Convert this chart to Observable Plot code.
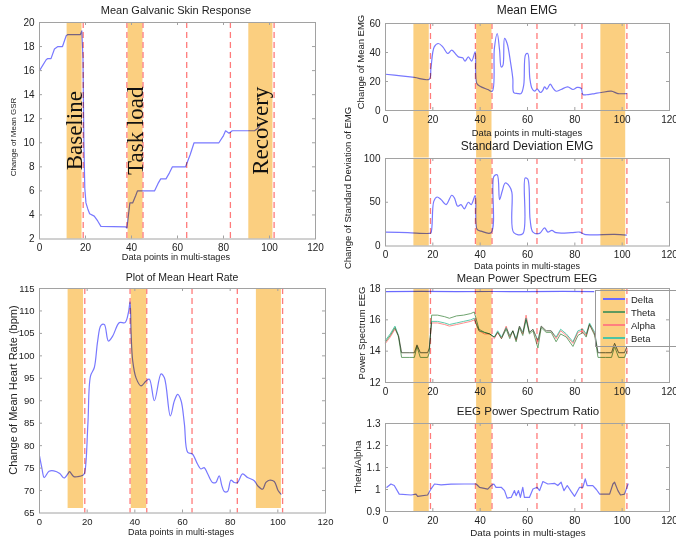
<!DOCTYPE html>
<html><head><meta charset="utf-8">
<script src="https://cdn.jsdelivr.net/npm/d3@7"></script>
<script src="https://cdn.jsdelivr.net/npm/@observablehq/plot@0.6"></script>
<style>
html,body{margin:0;padding:0;background:#fff;}
#root{position:relative;width:676px;height:543px;overflow:hidden;background:#fff;font-family:"Liberation Sans",Arial,sans-serif;color:#222;}
.lbl{position:absolute;white-space:nowrap;transform:translate(-50%,-50%);line-height:1;}
.ylbl{position:absolute;white-space:nowrap;transform:translate(-50%,-50%) rotate(-90deg);line-height:1;}
.legend{position:absolute;border:1px solid #999;background:transparent;font-size:9.5px;}
.legend .row{position:absolute;left:0;display:flex;align-items:center;height:12px;}
.legend .sw{display:inline-block;width:22px;height:1.4px;margin-left:7px;margin-right:6px;}
</style></head><body><div id="root"></div>
<script>
// ---------- shared stage information ----------
const xTicks = [0, 20, 40, 60, 80, 100, 120];
const stageX = [19, 38, 45, 64, 83, 102];
const bandStart = [12, 38.5, 91];
const bandEnd = [18.5, 45, 101.5];
const phaseNames = ["Baseline", "Task load", "Recovery"];

// ---------- Mean Galvanic Skin Response ----------
const gsrX = [0, 2.9, 3.6, 5, 6.5, 8, 10, 11.6, 12.3, 17.8, 18.4, 18.9, 19.3, 19.7, 20.2, 21, 21.8, 23.8, 25.3, 26.7, 37.5, 38, 38.8, 39.3, 40.5, 41.8, 42.6, 50, 51.5, 52.7, 55, 56.5, 57.8, 63.5, 65.5, 67.2, 78, 80, 80.9, 82.4, 83.8, 93.5, 95, 96];
const gsrY = [16, 16.9, 17, 17, 17.8, 18, 18, 18.9, 19, 19, 19.3, 17, 10, 6.2, 5, 4.5, 4.1, 3.9, 3.5, 3.05, 3, 2.9, 4.2, 5, 5, 5.6, 6, 6, 6.6, 7, 7, 7.5, 8, 8, 9, 10, 10, 10.6, 11, 10.8, 11, 11, 11.2, 11.5];
const gsrTicks = [2, 4, 6, 8, 10, 12, 14, 16, 18, 20];

// ---------- Mean Heart Rate ----------
const hrX = [0, 1, 2, 4, 6, 8.5, 10.3, 12, 12.6, 14.4, 16.1, 18.2, 18.9, 20.3, 21.4, 23, 24.4, 25.8, 27.2, 28.9, 30.7, 33.5, 35.9, 37.3, 38, 38.4, 39.1, 40.5, 42.6, 44.7, 46.1, 48.2, 51, 52.4, 54.9, 56.6, 58, 59.4, 60.8, 62.2, 64.2, 66.3, 67.7, 69.1, 70.5, 72.6, 74, 75.4, 76.5, 77.5, 78.9, 80.3, 81.7, 83.1, 85.2, 87.3, 90.1, 91.5, 93.6, 95, 96.4, 98.5, 100.1, 101.3];
const hrY = [77.7, 75, 72.9, 74.3, 74.4, 73.8, 72.8, 73.8, 74.2, 73.1, 73.1, 73.4, 73.9, 84.8, 95.5, 97.4, 103.3, 106.8, 107, 103.3, 104.4, 107.4, 107.4, 109.6, 112, 105.5, 98.9, 95.1, 93.3, 94.4, 94.8, 90, 96, 95.1, 86.6, 90, 91.4, 90, 84.8, 78.5, 78.1, 75.9, 74.8, 75.1, 73.8, 71.8, 71.8, 73.3, 71.1, 69.8, 69.8, 72.3, 71.8, 71.8, 73.7, 72.9, 72.2, 71.1, 70.3, 71.8, 72.3, 72, 70, 69.2];
const hrTicks = [65, 70, 75, 80, 85, 90, 95, 100, 105, 110, 115];
const hrBandFloor = 66;

// ---------- Mean EMG ----------
const emgX = [0, 6.5, 12.2, 18.5, 19.2, 20.6, 22.3, 24.2, 26.3, 28, 29.8, 30.8, 32.6, 33.6, 35, 36.4, 37.9, 38.6, 40.4, 43.2, 45.1, 46, 47.2, 48.2, 48.9, 49.6, 50.3, 51.4, 52.8, 53.8, 54.2, 55.9, 57.3, 58.4, 59.2, 60.1, 61, 61.9, 63, 64.1, 65.5, 66.5, 67.2, 68.2, 69.6, 70.7, 72.1, 74.2, 77, 79.2, 81, 82.7, 83.4, 85.6, 88.4, 91.2, 95.4, 98.2, 101.8];
const emgY = [25, 23.9, 22.8, 21.6, 29, 43.9, 46.2, 43.9, 39.3, 41.6, 38.6, 37, 36.3, 34, 37, 34, 40.5, 18.6, 16.3, 14.5, 13.3, 42.8, 53.1, 41.6, 30, 31, 49.7, 46.2, 33.6, 22, 12.4, 11.7, 11.7, 17.5, 38.6, 39.3, 22, 15.2, 13.3, 14.7, 12.4, 14, 16.3, 14.7, 18.2, 15.6, 13.3, 14.5, 16.3, 14.5, 15.9, 15.2, 11, 11, 11.7, 12.4, 13.3, 11.7, 11.7];
const emgTicks = [0, 20, 40, 60];

// ---------- Standard Deviation EMG ----------
const sdX = [0, 9.4, 18.5, 19.2, 20.4, 21.8, 23.5, 25.6, 28, 29.1, 30.5, 31.9, 33.3, 35, 36.2, 37.9, 38.7, 40.4, 44.6, 45.8, 47.2, 48.2, 49.3, 50.6, 52.4, 53.4, 54.2, 58, 59, 60.1, 61.1, 62.3, 65.1, 67.2, 68.6, 70.3, 72.1, 78.5, 82, 84.1, 96.8, 101.8];
const sdY = [15.9, 15.2, 14.4, 15, 51, 56, 53, 47.3, 58, 55, 45.5, 47.3, 42.4, 50, 47.3, 57.6, 18.9, 17, 15.2, 79.5, 81.4, 53, 62.5, 72, 68.2, 61.4, 15.2, 14, 77.7, 76.5, 30.3, 15.9, 14.4, 20.8, 15.9, 17.8, 15.2, 15.2, 15.9, 13.3, 13.3, 12.5];
const sdTicks = [0, 50, 100];

// ---------- Mean Power Spectrum EEG ----------
const eegSeries = ["Delta", "Theta", "Alpha", "Beta"];
const deltaX = [0, 15, 30, 45, 60, 75, 88];
const deltaY = [17.8, 17.82, 17.8, 17.81, 17.8, 17.82, 17.8];
const eegX = [0, 2, 4, 5.5, 6.8, 10, 12.2, 13.3, 14.7, 17.8, 18.5, 19.5, 22, 25, 27, 30, 33, 36, 37.5, 39.5, 41.8, 44, 46, 47.4, 49, 51, 52.5, 53.8, 55.2, 56.6, 58, 59.4, 60.8, 62.3, 64.4, 65.8, 67.9, 70, 72.1, 74, 76.4, 79.2, 81.3, 83.4, 84.8, 86.2, 88.4, 89.8, 93, 95.5, 96.8, 98.5, 101, 102];
const thetaY = [14.6, 15.0, 15.5, 14.9, 13.6, 13.6, 13.6, 14.3, 13.6, 13.6, 13.9, 16.3, 16.3, 16.2, 16.1, 16.25, 16.3, 16.4, 16.5, 15.4, 15.2, 15.1, 14.9, 15.2, 14.8, 15.4, 14.8, 15.3, 14.6, 15.5, 15.0, 16.0, 15.1, 15.3, 14.2, 15.5, 15.2, 15.2, 14.6, 15.1, 14.9, 14.3, 15.0, 15.2, 14.9, 15.7, 15.0, 13.6, 13.6, 13.6, 14.3, 13.6, 13.6, 14.0];
const alphaY = [14.5, 14.9, 15.4, 15.0, 13.9, 13.9, 13.9, 14.4, 13.9, 13.9, 14.2, 15.8, 15.8, 15.7, 15.6, 15.7, 15.8, 15.9, 16.0, 15.3, 15.1, 15.1, 14.8, 15.2, 14.8, 15.6, 14.9, 15.3, 14.7, 15.6, 15.1, 16.3, 15.2, 15.4, 14.6, 15.6, 15.3, 15.3, 14.8, 15.3, 15.0, 14.5, 15.2, 15.3, 15.0, 15.7, 15.1, 13.9, 13.9, 13.9, 14.5, 13.9, 13.9, 14.3];
const betaY = [14.7, 15.1, 15.6, 15.0, 13.9, 13.9, 13.9, 14.4, 13.9, 13.9, 14.2, 15.9, 15.9, 15.8, 15.7, 15.8, 15.9, 16.0, 16.1, 15.3, 15.2, 15.1, 14.9, 15.3, 14.9, 15.5, 15.0, 15.3, 14.8, 15.6, 15.2, 16.1, 15.2, 15.4, 14.7, 15.6, 15.3, 15.3, 14.9, 15.4, 15.1, 14.6, 15.3, 15.4, 15.1, 15.8, 15.2, 13.9, 13.9, 13.9, 14.5, 13.9, 13.9, 14.3];
const eegTicks = [12, 14, 16, 18];

// ---------- EEG Power Spectrum Ratio ----------
const ratioX = [0.6, 2.3, 3.7, 5.8, 10.8, 12.9, 13.6, 17.8, 19.2, 20.7, 23.5, 27.7, 33.3, 38.3, 39.7, 43.2, 44.6, 45.8, 46.7, 48.9, 50.3, 51.4, 53.1, 54.5, 55.2, 56.2, 57, 58, 58.7, 60.8, 62.3, 64.1, 65.1, 66.5, 68.6, 71.4, 72.8, 74.2, 75.4, 76.8, 78.5, 79.9, 82, 83.4, 84.4, 85.2, 87.6, 89.1, 90.5, 94.7, 96.1, 96.8, 98.2, 99.3, 101, 102.5];
const ratioY = [1.01, 1.025, 1.018, 0.979, 0.975, 0.979, 0.969, 0.975, 1.002, 1.025, 1.021, 1.024, 1.025, 1.025, 1.01, 1.002, 1.018, 1.025, 1.01, 1.01, 0.995, 0.961, 0.964, 0.995, 0.972, 0.995, 0.964, 1.01, 0.964, 0.964, 1.002, 1.01, 0.995, 1.036, 1.025, 1.028, 1.018, 1.033, 0.995, 1.018, 0.99, 0.969, 1.01, 1.01, 1.048, 1.018, 1.018, 1.0, 0.979, 0.979, 1.025, 1.033, 0.995, 0.975, 0.979, 1.025];
const ratioTicks = [0.9, 1, 1.1, 1.2, 1.3];

// ---------- styling ----------
const BAND = "#fbcf80";
const BLUE = "#7878ff";
const DASH = "#ff7b7b";
const eegColors = {Delta: "#6a6aff", Theta: "#5f9a5f", Alpha: "#ff8080", Beta: "#4cc4a4"};
const FONT = "Liberation Sans, Arial, sans-serif";
const root = document.getElementById("root");
const bands = bandStart.map((s, i) => ({start: s, end: bandEnd[i], name: phaseNames[i]}));
const M = {l: 40, r: 14, t: 10, b: 28};

function panel(cfg) {
  const [x0, y0, x1, y1] = cfg.frame;
  const fw = x1 - x0, fh = y1 - y0;
  const marks = [];
  const bandOpts = {x1: "start", x2: "end", fill: BAND};
  if (cfg.bandFloor != null) { bandOpts.y1 = () => cfg.bandFloor; bandOpts.y2 = () => cfg.yDomain[1]; }
  if (cfg.bandExtend) bandOpts.insetBottom = -cfg.bandExtend;
  marks.push(Plot.rect(bands, bandOpts));
  marks.push(Plot.ruleX(stageX, {x: d => d, stroke: DASH, strokeWidth: 1.3, strokeDasharray: "6,4"}));
  for (const s of cfg.series) {
    marks.push(Plot.line(s.y, {x: s.x, y: s.y, stroke: s.color, strokeWidth: s.w || 1.2, curve: cfg.curve || "linear", mixBlendMode: "multiply"}));
  }
  if (cfg.phaseText) {
    marks.push(Plot.text(bands, {x: d => (d.start + d.end) / 2, frameAnchor: "middle", text: "name", rotate: -90, fontSize: 23, fontFamily: "Liberation Serif, Times New Roman, serif", fill: "#111"}));
  }
  marks.push(Plot.frame({stroke: "#a2a2a2"}));
  const innerX = xTicks.slice(1, -1);
  const innerY = cfg.yTicks.slice(1, -1);
  marks.push(Plot.tickX(innerX, {x: d => d, stroke: "#a2a2a2", insetTop: fh - 3}));
  marks.push(Plot.tickX(innerX, {x: d => d, stroke: "#a2a2a2", insetBottom: fh - 3}));
  marks.push(Plot.tickY(innerY, {y: d => d, stroke: "#a2a2a2", insetRight: fw - 3}));
  marks.push(Plot.tickY(innerY, {y: d => d, stroke: "#a2a2a2", insetLeft: fw - 3}));
  marks.push(Plot.axisX({ticks: xTicks, tickSize: 0, tickPadding: cfg.xPad || 5, fontSize: cfg.tickFont, label: null, tickFormat: d => String(d)}));
  marks.push(Plot.axisY({ticks: cfg.yTicks, tickSize: 0, tickPadding: 5, fontSize: cfg.tickFont, label: null, tickFormat: d => String(d)}));
  const svg = Plot.plot({
    width: fw + M.l + M.r, height: fh + M.t + M.b,
    marginLeft: M.l, marginRight: M.r, marginTop: M.t, marginBottom: M.b,
    x: {domain: [0, 120]}, y: {domain: cfg.yDomain},
    style: {background: "transparent", overflow: "visible", fontFamily: FONT, color: "#222", maxWidth: "none"},
    marks
  });
  svg.style.position = "absolute";
  svg.style.left = (x0 - M.l) + "px";
  svg.style.top = (y0 - M.t) + "px";
  root.appendChild(svg);
}

// left column
panel({frame: [38.5, 21.5, 314.5, 238], yDomain: [2, 20], yTicks: gsrTicks, tickFont: 10,
  series: [{x: gsrX, y: gsrY, color: BLUE}], phaseText: true});
panel({frame: [38.5, 287.5, 324.5, 512], yDomain: [65, 115], yTicks: hrTicks, tickFont: 9.5,
  bandFloor: hrBandFloor, curve: "catmull-rom", series: [{x: hrX, y: hrY, color: BLUE}]});
// right column
panel({frame: [384.5, 23, 668.5, 110], yDomain: [0, 60], yTicks: emgTicks, tickFont: 10, bandExtend: 47.5,
  curve: "catmull-rom", series: [{x: emgX, y: emgY, color: BLUE}]});
panel({frame: [384.5, 157.5, 668.5, 245], yDomain: [0, 100], yTicks: sdTicks, tickFont: 10,
  curve: "catmull-rom", series: [{x: sdX, y: sdY, color: BLUE}]});
panel({frame: [384.5, 288, 668.5, 382], yDomain: [12, 18], yTicks: eegTicks, tickFont: 10, bandExtend: 41,
  series: [
    {x: deltaX, y: deltaY, color: eegColors.Delta, w: 1.2},
    {x: eegX, y: thetaY, color: eegColors.Theta, w: 0.9},
    {x: eegX, y: alphaY, color: eegColors.Alpha, w: 0.9},
    {x: eegX, y: betaY, color: eegColors.Beta, w: 0.9}
  ]});
panel({frame: [384.5, 423, 668.5, 511], yDomain: [0.9, 1.3], yTicks: ratioTicks, tickFont: 10,
  series: [{x: ratioX, y: ratioY, color: BLUE}]});

// ---------- text labels ----------
function label(text, x, y, size, rot) {
  const d = document.createElement("div");
  d.className = rot ? "ylbl" : "lbl";
  d.textContent = text;
  d.style.left = x + "px"; d.style.top = y + "px"; d.style.fontSize = size + "px";
  root.appendChild(d);
}
label("Mean Galvanic Skin Response", 176, 10, 11);
label("Data points in multi-stages", 176, 258, 9.2);
label("Change of Mean GSR", 13.5, 137, 8, true);

label("Plot of Mean Heart Rate", 182, 277, 10.5);
label("Data points in multi-stages", 181, 532, 9);
label("Change of Mean Heart Rate (bpm)", 13, 390, 11, true);

label("Mean EMG", 527, 10, 12);
label("Data points in multi-stages", 527, 133, 9.4);
label("Change of Standard Deviation of EMG", 348, 188, 9.5, true);
label("Change of Mean EMG", 361, 62, 9.5, true);

label("Standard Deviation EMG", 527, 146, 12);
label("Data points in multi-stages", 527, 266, 9);

label("Mean Power Spectrum EEG", 527, 278.5, 11.2);
label("Power Spectrum EEG", 362, 333, 9.5, true);

label("EEG Power Spectrum Ratio", 528, 412, 11.5);
label("Data points in multi-stages", 528, 533, 9.8);
label("Theta/Alpha", 358, 467, 9.8, true);

// ---------- EEG legend ----------
const lg = document.createElement("div");
lg.className = "legend";
lg.style.left = "595px"; lg.style.top = "290px"; lg.style.width = "95px"; lg.style.height = "55px";
eegSeries.forEach((name, i) => {
  const r = document.createElement("div");
  r.className = "row";
  r.style.top = (2 + i * 13) + "px";
  const sw = document.createElement("span");
  sw.className = "sw"; sw.style.background = eegColors[name];
  const t = document.createElement("span");
  t.textContent = name;
  r.appendChild(sw); r.appendChild(t);
  lg.appendChild(r);
});
root.appendChild(lg);
</script></body></html>
